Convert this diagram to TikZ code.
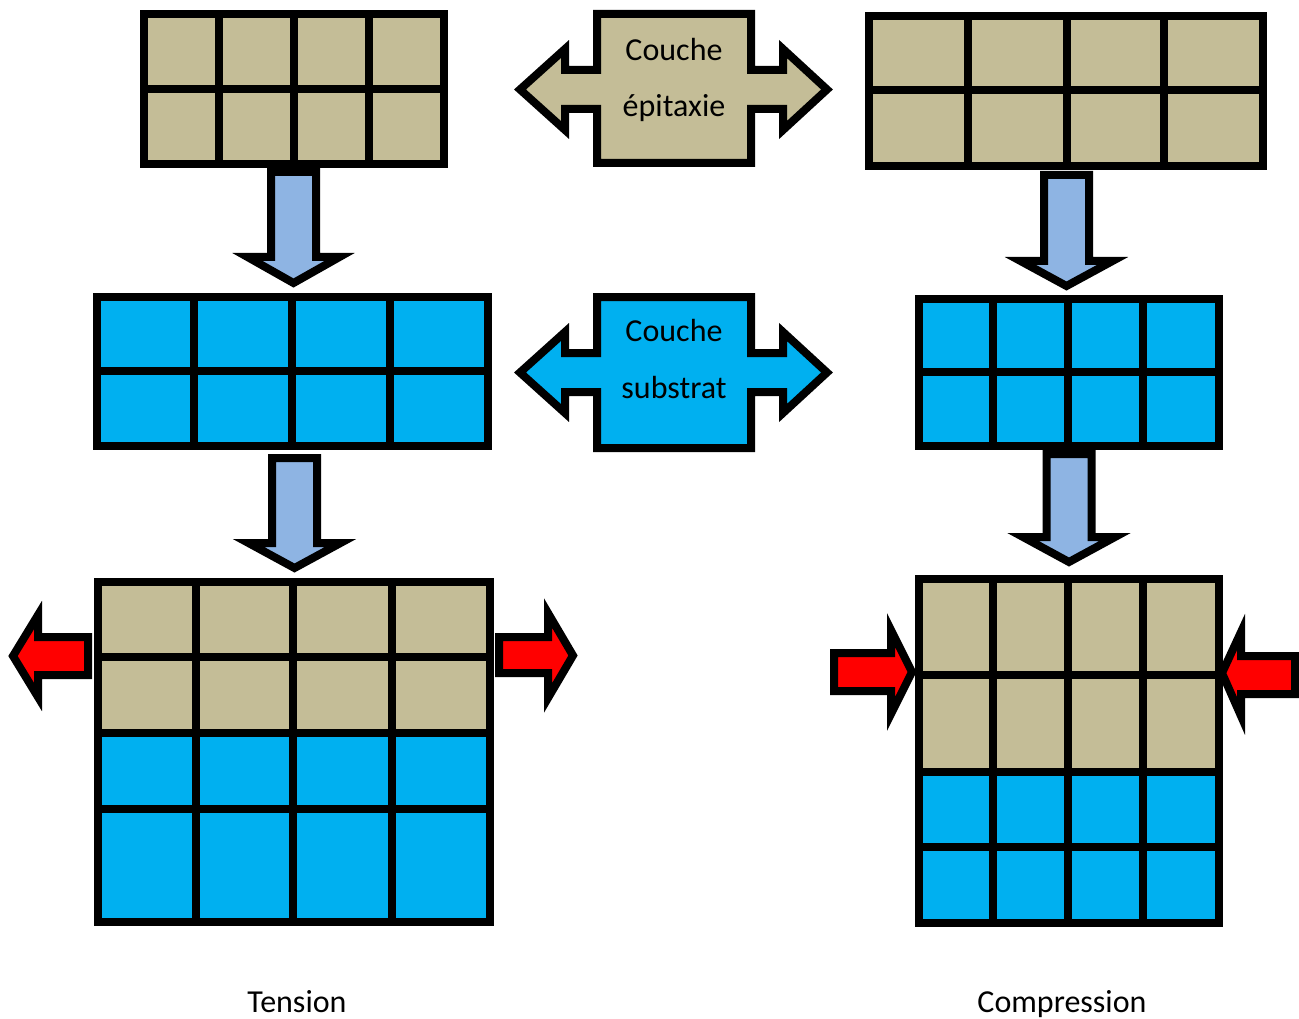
\documentclass[tikz,border=0pt]{standalone}
\usepackage{fontspec}
\setmainfont{Carlito}
\definecolor{tanc}{HTML}{C4BD97}
\definecolor{skyc}{HTML}{00B0F0}
\definecolor{palec}{HTML}{8EB4E3}
\definecolor{redc}{HTML}{FF0000}
\tikzset{
  gridline/.style={line width=8pt, line join=miter, line cap=rect},
  blockarrow/.style={draw=black, line width=8pt, line join=miter, miter limit=10},
  lbl/.style={font=\fontsize{32}{38}\selectfont, anchor=base, inner sep=0pt},
}
\newcommand{\dnarrow}[4]{%
  \filldraw[blockarrow, fill=palec] ({#1-22.5},#2) -- ({#1+22.5},#2) -- ({#1+22.5},#3) -- ({#1+46},#3) -- (#1,#4) -- ({#1-46},#3) -- ({#1-22.5},#3) -- cycle;}
\begin{document}
\begin{tikzpicture}[x=1pt,y=-1pt]
\useasboundingbox (0,0) rectangle (1299,1019);
\fill[white] (0,0) rectangle (1299,1019);

% top-left epitaxy grid
\fill[tanc] (144,14) rectangle (444,164);
\draw[gridline] (144,14) rectangle (444,164);
\foreach \x in {219,294,369} \draw[gridline] (\x,14) -- (\x,164);
\draw[gridline] (144,89) -- (444,89);

% top-right epitaxy grid
\fill[tanc] (869,16) rectangle (1263,166);
\draw[gridline] (869,16) rectangle (1263,166);
\foreach \x in {968,1067,1164} \draw[gridline] (\x,16) -- (\x,166);
\draw[gridline] (869,90) -- (1263,90);

% middle-left substrate grid
\fill[skyc] (97,297) rectangle (488,446);
\draw[gridline] (97,297) rectangle (488,446);
\foreach \x in {194,292,390} \draw[gridline] (\x,297) -- (\x,446);
\draw[gridline] (97,371) -- (488,371);

% middle-right substrate grid
\fill[skyc] (919,299) rectangle (1219,446);
\draw[gridline] (919,299) rectangle (1219,446);
\foreach \x in {993,1068,1143} \draw[gridline] (\x,299) -- (\x,446);
\draw[gridline] (919,372) -- (1219,372);

% bottom-left (tension)
\fill[tanc] (98,582) rectangle (490,733);
\fill[skyc] (98,733) rectangle (490,922);
\draw[gridline] (98,582) rectangle (490,922);
\foreach \x in {196,293,392} \draw[gridline] (\x,582) -- (\x,922);
\foreach \y in {657,733,809} \draw[gridline] (98,\y) -- (490,\y);

% bottom-right (compression)
\fill[tanc] (919,579) rectangle (1219,772);
\fill[skyc] (919,772) rectangle (1219,923);
\draw[gridline] (919,579) rectangle (1219,923);
\foreach \x in {993,1068,1143} \draw[gridline] (\x,579) -- (\x,923);
\foreach \y in {675,772,847} \draw[gridline] (919,\y) -- (1219,\y);

% down arrows
\dnarrow{293.5}{172}{257}{283}
\dnarrow{294.5}{458}{543}{568}
\dnarrow{1066.5}{175}{261}{286}
\dnarrow{1069}{454}{537}{562}

% double arrows
\filldraw[blockarrow, fill=tanc] (597,14) -- (751,14) -- (751,70) -- (783,70) -- (783,49) -- (827,89.5) -- (783,130) -- (783,109) -- (751,109) -- (751,163) -- (597,163) -- (597,109) -- (565,109) -- (565,130) -- (520,89.5) -- (565,49) -- (565,70) -- (597,70) -- cycle;
\begin{scope}[shift={(0,283)}]
\filldraw[blockarrow, fill=skyc] (597,14) -- (751,14) -- (751,70) -- (783,70) -- (783,49) -- (827,89.5) -- (783,130) -- (783,109) -- (751,109) -- (751,165) -- (597,165) -- (597,109) -- (565,109) -- (565,130) -- (520,89.5) -- (565,49) -- (565,70) -- (597,70) -- cycle;
\end{scope}
\node[lbl] (epi1) at (674,61) {Couche};
\node[lbl] (epi2) at (674,117) {épitaxie};
\node[lbl] (sub1) at (674,341) {Couche};
\node[lbl] (sub2) at (674,398) {substrat};

% red strain arrows
\filldraw[blockarrow, fill=redc] (88,637) -- (38,637) -- (38,615) -- (13,656) -- (38,697) -- (38,675) -- (88,675) -- cycle;
\filldraw[blockarrow, fill=redc] (499,637) -- (548,637) -- (548,613) -- (573,655.5) -- (548,698) -- (548,673) -- (499,673) -- cycle;
\filldraw[blockarrow, fill=redc] (834,653) -- (891,653) -- (891,630) -- (912,672) -- (891,714) -- (891,691) -- (834,691) -- cycle;
\filldraw[blockarrow, fill=redc] (1295,656) -- (1241,656) -- (1241,632) -- (1222,673) -- (1241,716) -- (1241,694) -- (1295,694) -- cycle;

% captions
\node[lbl] (tension) at (297,1012) {Tension};
\node[lbl] (compression) at (1062,1012) {Compression};
\end{tikzpicture}
\end{document}
